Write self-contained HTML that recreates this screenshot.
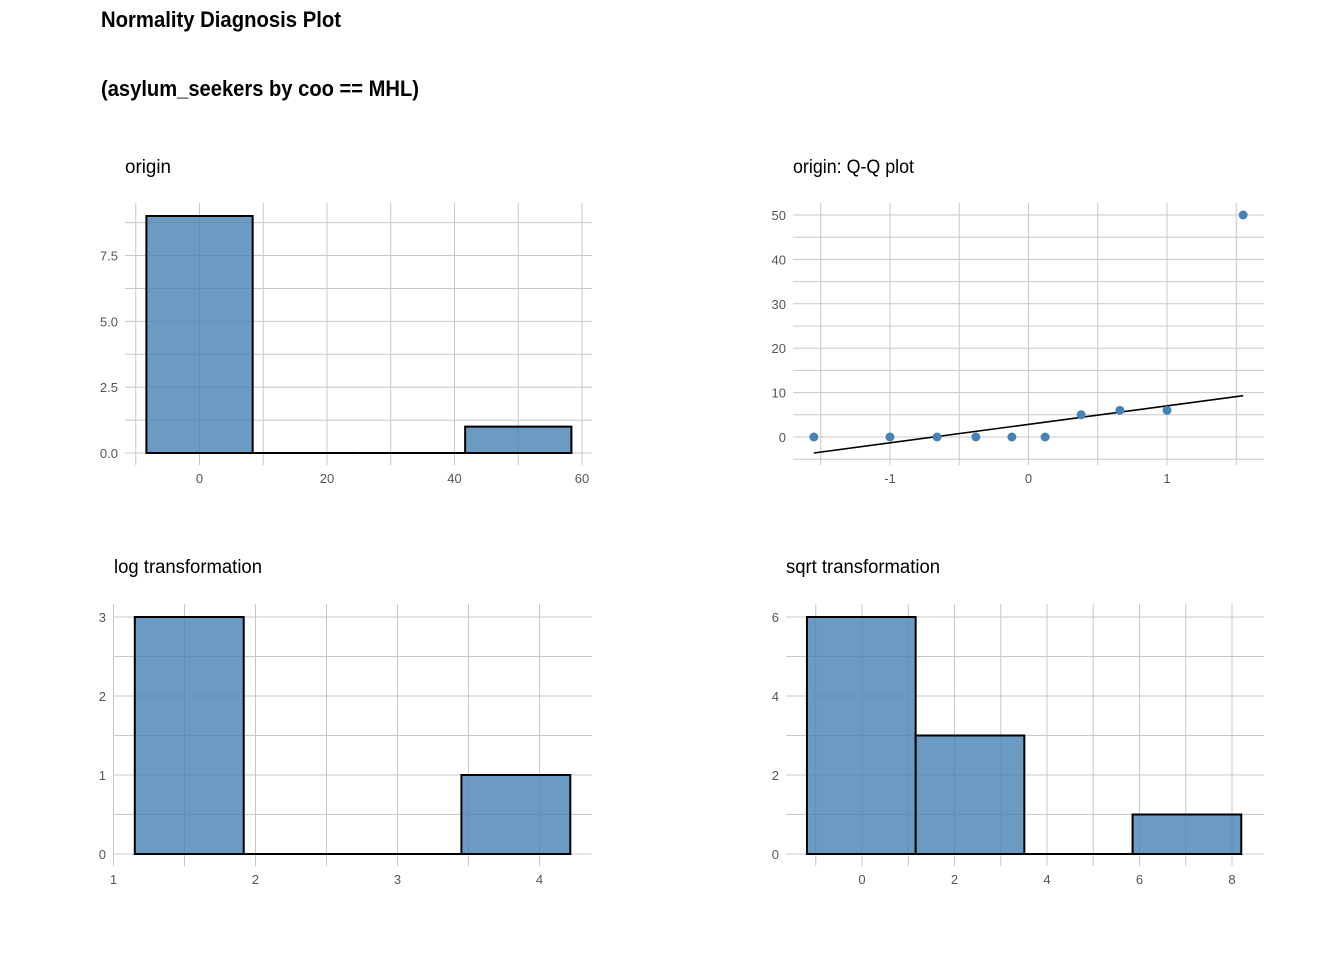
<!DOCTYPE html>
<html><head><meta charset="utf-8">
<style>
body{margin:0;background:#fff;width:1344px;height:960px;overflow:hidden;font-family:"Liberation Sans",sans-serif;}
svg text{font-family:"Liberation Sans",sans-serif;}
</style></head>
<body>
<svg id="chart" width="1344" height="960" viewBox="0 0 1344 960" xmlns="http://www.w3.org/2000/svg">
<text x="101" y="27" font-size="22" font-weight="bold" fill="#000" textLength="240" lengthAdjust="spacingAndGlyphs">Normality Diagnosis Plot</text>
<text x="101" y="96" font-size="22" font-weight="bold" fill="#000" textLength="318" lengthAdjust="spacingAndGlyphs">(asylum_seekers by coo == MHL)</text>
</svg>
<script>
// origin histogram
const originBinStarts=[-8.33,8.33,25,41.67];
const originBinWidth=16.67;
const originCounts=[9,0,0,1];
const originXTicks=[0,20,40,60];
const originYTicks=[0,2.5,5,7.5];
const originYLabels=["0.0","2.5","5.0","7.5"];
// Q-Q
const qqTheoretical=[-1.55,-1.0,-0.66,-0.38,-0.12,0.12,0.38,0.66,1.0,1.55];
const qqSample=[0,0,0,0,0,0,5,6,6,50];
const qqLineY=[-3.6,9.3];
const qqXTicks=[-1,0,1];
const qqYTicks=[0,10,20,30,40,50];
// log
const logBinStarts=[1.15,1.917,2.683,3.45];
const logBinWidth=0.767;
const logCounts=[3,0,0,1];
const logXTicks=[1,2,3,4];
const logYTicks=[0,1,2,3];
// sqrt
const sqrtBinStarts=[-1.19,1.16,3.5,5.85];
const sqrtBinWidth=2.35;
const sqrtCounts=[6,3,0,1];
const sqrtXTicks=[0,2,4,6,8];
const sqrtYTicks=[0,2,4,6];

const svg=document.getElementById('chart');
const NS="http://www.w3.org/2000/svg";
function mk(tag,attrs,parent){const e=document.createElementNS(NS,tag);for(const k in attrs)e.setAttribute(k,attrs[k]);(parent||svg).appendChild(e);return e;}

function panel(cfg){
  const g=mk('g',{});
  
  
  const sx=v=>cfg.x0px+(v-cfg.x0)*cfg.xs;
  const sy=v=>cfg.y0px-(v-cfg.y0)*cfg.ys;
  const t=mk('text',{x:cfg.titleX,y:cfg.titleY,'font-size':19,fill:'#000',textLength:cfg.titleW,lengthAdjust:'spacingAndGlyphs'},g);
  t.textContent=cfg.title;
  
  
  const gxs=[];cfg.xTicks.forEach(v=>gxs.push(v));
  for(let i=0;i<cfg.xTicks.length-1;i++)gxs.push((cfg.xTicks[i]+cfg.xTicks[i+1])/2);
  if(cfg.xExtra)cfg.xExtra.forEach(v=>gxs.push(v));
  gxs.forEach(v=>{mk('line',{x1:sx(v),x2:sx(v),y1:cfg.top,y2:cfg.bottom,stroke:'#c8c8c8','stroke-width':1},g);});
  const gys=[];cfg.yTicks.forEach(v=>gys.push(v));
  for(let i=0;i<cfg.yTicks.length-1;i++)gys.push((cfg.yTicks[i]+cfg.yTicks[i+1])/2);
  if(cfg.yExtra)cfg.yExtra.forEach(v=>gys.push(v));
  gys.forEach(v=>{mk('line',{x1:cfg.left,x2:cfg.right,y1:sy(v),y2:sy(v),stroke:'#c8c8c8','stroke-width':1},g);});
  cfg.xTicks.forEach(v=>{const e=mk('text',{x:sx(v),y:cfg.bottom+18,'font-size':13,fill:'#555','text-anchor':'middle'},g);e.textContent=String(v);
    });
  cfg.yTicks.forEach((v,i)=>{const e=mk('text',{x:cfg.left-7,y:sy(v)+5,'font-size':13,fill:'#555','text-anchor':'end'},g);e.textContent=cfg.yLabels?cfg.yLabels[i]:String(v);
    });
  return {g,sx,sy};
}
function hist(p,starts,w,counts,name){
  counts.forEach((c,i)=>{
    const x1=p.sx(starts[i]),x2=p.sx(starts[i]+w),y=p.sy(c),y0=p.sy(0);
    const r=mk('path',{d:`M${x1},${y0}L${x1},${y}L${x2},${y}L${x2},${y0}Z`,fill:'rgba(70,130,180,0.8)',stroke:'#000','stroke-width':2},p.g);
    
    
  });
}

let p1=panel({name:'origin-histogram',title:'origin',titleW:46,titleX:125,titleY:173,x0:0,x0px:199.5,xs:6.375,y0:0,y0px:453,ys:26.33,
  left:125,right:592,top:203,bottom:465,xTicks:originXTicks,xExtra:[-10],yTicks:originYTicks,yExtra:[8.75],yLabels:originYLabels});
hist(p1,originBinStarts,originBinWidth,originCounts,'origin');

let p2=panel({name:'origin-qq-plot',title:'origin: Q-Q plot',titleW:121,titleX:793,titleY:173,x0:0,x0px:1028.5,xs:138.5,y0:0,y0px:437,ys:4.44,
  left:793,right:1264,top:203,bottom:465,xTicks:qqXTicks,xExtra:[-1.5,1.5],yTicks:qqYTicks,yExtra:[-5]});
const ql=mk('line',{x1:p2.sx(qqTheoretical[0]),y1:p2.sy(qqLineY[0]),x2:p2.sx(qqTheoretical[qqTheoretical.length-1]),y2:p2.sy(qqLineY[1]),stroke:'#000','stroke-width':1.6},p2.g);


qqTheoretical.forEach((q,i)=>{
  const c=mk('circle',{cx:p2.sx(q),cy:p2.sy(qqSample[i]),r:4.5,fill:'#4682b4'},p2.g);
  
  
});

let p3=panel({name:'log-histogram',title:'log transformation',titleW:148,titleX:114,titleY:573,x0:1,x0px:113.5,xs:142,y0:0,y0px:854,ys:79,
  left:113,right:592,top:604,bottom:866,xTicks:logXTicks,yTicks:logYTicks});
hist(p3,logBinStarts,logBinWidth,logCounts,'log');

let p4=panel({name:'sqrt-histogram',title:'sqrt transformation',titleW:154,titleX:786,titleY:573,x0:0,x0px:862,xs:46.25,y0:0,y0px:854,ys:39.5,
  left:786,right:1264,top:604,bottom:866,xTicks:sqrtXTicks,xExtra:[-1],yTicks:sqrtYTicks});
hist(p4,sqrtBinStarts,sqrtBinWidth,sqrtCounts,'sqrt');
</script>
</body></html>
